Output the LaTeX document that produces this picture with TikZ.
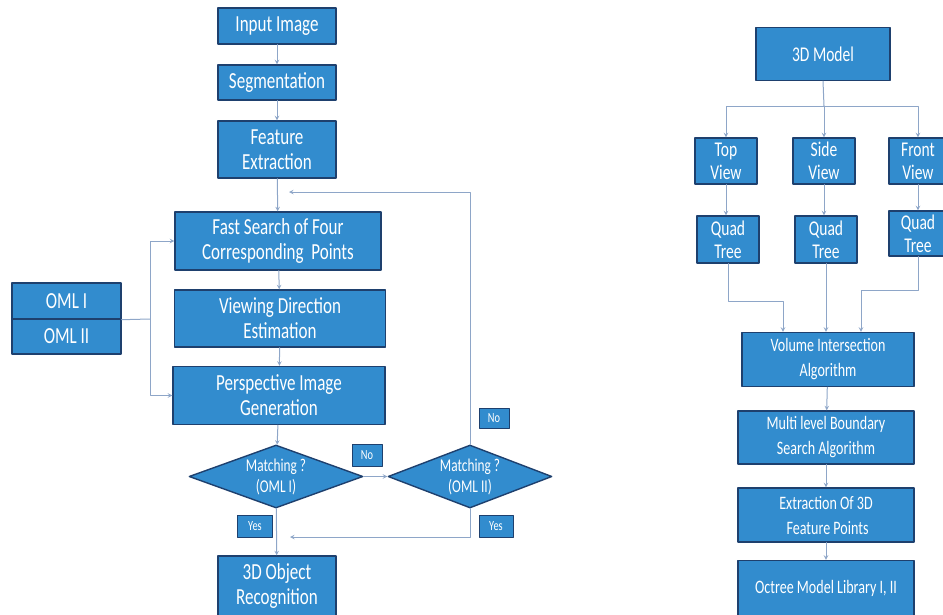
\documentclass[tikz,border=0pt]{standalone}
\usepackage{fontspec}
\setmainfont{Carlito}[FakeStretch=0.74]
\usetikzlibrary{shapes.geometric}
\definecolor{nen}{RGB}{50,140,206}
\definecolor{khung}{RGB}{30,64,110}
\definecolor{duong}{RGB}{142,166,200}
\begin{document}
\begin{tikzpicture}[x=1pt,y=-1pt,>=stealth,line join=round,line cap=round,
	hop/.style={draw=khung,line width=1.4pt,fill=nen,text=white,align=center,inner sep=0pt},
	to/.style={font=\fontsize{23}{25}\selectfont},
	vua/.style={font=\fontsize{19}{25}\selectfont},
	nho/.style={font=\fontsize{21}{23}\selectfont},
	nhan/.style={hop,line width=1pt,font=\fontsize{14}{15}\selectfont},
	thoi/.style={hop,diamond,aspect=2.7,font=\fontsize{18}{21}\selectfont},
	noi/.style={draw=duong,line width=1pt}]
	% Khung
	\useasboundingbox (0,0) rectangle (943,614);
	% Cot trai
	\node[hop,to,minimum width=118,minimum height=36] (in) at (277,26) {Input Image};
	\node[hop,to,minimum width=118,minimum height=35] (seg) at (277,82.5) {Segmentation};
	\node[hop,to,minimum width=118,minimum height=57] (feat) at (277,149.5) {Feature\\Extraction};
	\node[hop,to,minimum width=206,minimum height=58] (fast) at (278,241) {Fast Search of Four\\Corresponding~~Points};
	\node[hop,to,minimum width=211,minimum height=57] (view) at (280,318.5) {Viewing Direction\\Estimation};
	\node[hop,to,minimum width=212,minimum height=58] (persp) at (279,395.5) {Perspective Image\\Generation};
	\node[hop,to,minimum width=109,minimum height=36] (omla) at (66.5,301) {OML I};
	\node[hop,to,minimum width=109,minimum height=35] (omlb) at (66.5,336.5) {OML II};
	\node[thoi,minimum width=174,minimum height=63] (mA) at (276,476.5) {Matching ?\\(OML I)};
	\node[thoi,minimum width=164,minimum height=63] (mB) at (470,476.5) {Matching ?\\(OML II)};
	\node[hop,to,minimum width=118,minimum height=60] (obj) at (277,586) {3D Object\\Recognition};
	\node[nhan,minimum width=30,minimum height=22] (noA) at (367,455) {No};
	\node[nhan,minimum width=30,minimum height=20] (noB) at (494,418) {No};
	\node[nhan,minimum width=35,minimum height=22] (yesA) at (255,526) {Yes};
	\node[nhan,minimum width=34,minimum height=22] (yesB) at (496,526) {Yes};
	\coordinate (j) at (150,319);
	\coordinate (fb) at (289,192);
	\coordinate (ys) at (290,537);
	\draw[noi,->] (in) -- (seg);
	\draw[noi,->] (seg) -- (feat);
	\draw[noi,->] (feat) -- (fast);
	\draw[noi,->] (fast) -- (view);
	\draw[noi,->] (view) -- (persp);
	\draw[noi,->] (persp) -- (mA);
	\draw[noi,->] (mA) -- (obj);
	\draw[noi,->] (mA.east) -- (mB.west);
	\draw[noi] (omla.south east) -- (j);
	\draw[noi,->] (j) |- (fast.west);
	\draw[noi,->] (j) |- (persp.west);
	\draw[noi,->] (mB.north) |- (fb);
	\draw[noi,->] (mB.south) |- (ys);
	% Cot phai
	\node[hop,nho,minimum width=134,minimum height=53] (model) at (823,54) {3D Model};
	\node[hop,nho,minimum width=62,minimum height=46] (top) at (726,161) {Top\\View};
	\node[hop,nho,minimum width=62,minimum height=46] (side) at (824,161) {Side\\View};
	\node[hop,nho,minimum width=58,minimum height=46] (front) at (918,161) {Front\\View};
	\node[hop,nho,minimum width=62,minimum height=47] (qa) at (728,239.5) {Quad\\Tree};
	\node[hop,nho,minimum width=62,minimum height=47] (qb) at (826,239.5) {Quad\\Tree};
	\node[hop,nho,minimum width=58,minimum height=45] (qc) at (918,233.5) {Quad\\Tree};
	\node[hop,vua,minimum width=172,minimum height=54] (vol) at (828,359.5) {Volume Intersection\\Algorithm};
	\node[hop,vua,minimum width=176,minimum height=53] (multi) at (826,437.5) {Multi level Boundary\\Search Algorithm};
	\node[hop,vua,minimum width=176,minimum height=54] (extr) at (826,515) {Extraction Of 3D\\~Feature Points};
	\node[hop,vua,minimum width=176,minimum height=55] (oct) at (826,588) {Octree Model Library I, II};
	\coordinate (bus) at (824,106);
	\coordinate (a1) at (783,301);
	\coordinate (a3) at (861,290);
	\draw[noi] (model.south) -- (bus);
	\draw[noi,->] (bus) -| (top.north);
	\draw[noi,->] (bus) -- (side.north);
	\draw[noi,->] (bus) -| (front.north);
	\draw[noi,->] (top) -- (top.south |- qa.north);
	\draw[noi,->] (side) -- (side.south |- qb.north);
	\draw[noi,->] (front) -- (qc);
	\draw[noi,->] (qa.south) |- (a1) -- (a1 |- vol.north);
	\draw[noi,->] (qb.south) -- (qb.south |- vol.north);
	\draw[noi,->] (qc.south) |- (a3) -- (a3 |- vol.north);
	\draw[noi,->] (vol) -- (multi);
	\draw[noi,->] (multi) -- (extr);
	\draw[noi,->] (extr) -- (oct);
\end{tikzpicture}
\end{document}
